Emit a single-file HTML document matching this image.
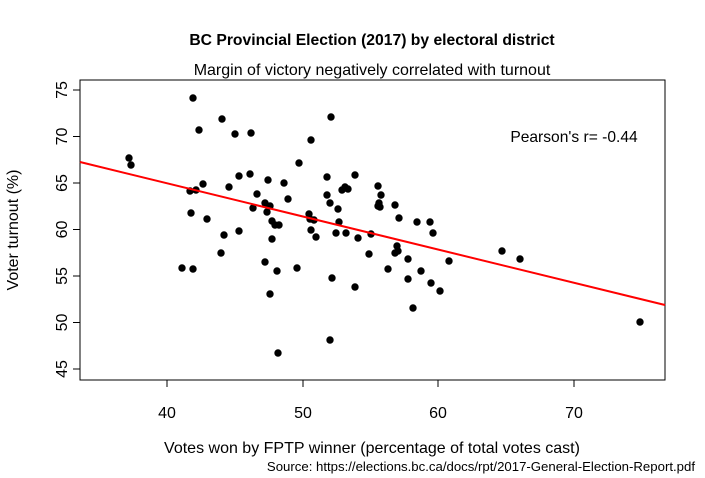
<!DOCTYPE html>
<html><head><meta charset="utf-8"><style>
body{margin:0;background:#fff}
svg{display:block;font-family:"Liberation Sans",sans-serif}
</style></head><body>
<svg width="705" height="478" xmlns="http://www.w3.org/2000/svg">
<text x="372" y="45" text-anchor="middle" font-size="15.7" font-weight="bold">BC Provincial Election (2017) by electoral district</text>
<text x="372" y="75" text-anchor="middle" font-size="16">Margin of victory negatively correlated with turnout</text>
<rect x="80" y="80" width="585" height="300" fill="none" stroke="#000"/>
<g stroke="#000">
<line x1="167" y1="380" x2="167" y2="387"/><line x1="303" y1="380" x2="303" y2="387"/><line x1="438" y1="380" x2="438" y2="387"/><line x1="574" y1="380" x2="574" y2="387"/>
<line x1="80" y1="90" x2="73" y2="90"/><line x1="80" y1="136.5" x2="73" y2="136.5"/><line x1="80" y1="183" x2="73" y2="183"/><line x1="80" y1="229.5" x2="73" y2="229.5"/><line x1="80" y1="276" x2="73" y2="276"/><line x1="80" y1="322.5" x2="73" y2="322.5"/><line x1="80" y1="369" x2="73" y2="369"/>
</g>
<g font-size="16" text-anchor="middle">
<text x="167" y="418">40</text><text x="303" y="418">50</text><text x="438" y="418">60</text><text x="574" y="418">70</text>
<text transform="translate(67,90) rotate(-90)">75</text>
<text transform="translate(67,136.5) rotate(-90)">70</text>
<text transform="translate(67,183) rotate(-90)">65</text>
<text transform="translate(67,229.5) rotate(-90)">60</text>
<text transform="translate(67,276) rotate(-90)">55</text>
<text transform="translate(67,322.5) rotate(-90)">50</text>
<text transform="translate(67,369) rotate(-90)">45</text>
<text transform="translate(18,230) rotate(-90)">Voter turnout (%)</text>
<text x="372" y="453">Votes won by FPTP winner (percentage of total votes cast)</text>
</g>
<text x="695" y="471" text-anchor="end" font-size="13.2">Source: https://elections.bc.ca/docs/rpt/2017-General-Election-Report.pdf</text>
<text x="574" y="142" text-anchor="middle" font-size="15.6">Pearson's r= -0.44</text>
<g fill="#000">
<circle cx="193" cy="98" r="3.7"/><circle cx="222" cy="119" r="3.7"/><circle cx="199" cy="130" r="3.7"/><circle cx="235" cy="134" r="3.7"/><circle cx="251" cy="133" r="3.7"/><circle cx="331" cy="117" r="3.7"/><circle cx="311" cy="140" r="3.7"/><circle cx="299" cy="163" r="3.7"/><circle cx="239" cy="176" r="3.7"/><circle cx="250" cy="174" r="3.7"/><circle cx="268" cy="180" r="3.7"/><circle cx="284" cy="183" r="3.7"/><circle cx="203" cy="184" r="3.7"/><circle cx="190" cy="191" r="3.7"/><circle cx="196" cy="190" r="3.7"/><circle cx="229" cy="187" r="3.7"/><circle cx="257" cy="194" r="3.7"/><circle cx="327" cy="177" r="3.7"/><circle cx="355" cy="175" r="3.7"/><circle cx="342" cy="190" r="3.7"/><circle cx="345" cy="187" r="3.7"/><circle cx="348" cy="189" r="3.7"/><circle cx="327" cy="195" r="3.7"/><circle cx="330" cy="203" r="3.7"/><circle cx="288" cy="199" r="3.7"/><circle cx="265" cy="203" r="3.7"/><circle cx="270" cy="206" r="3.7"/><circle cx="253" cy="208" r="3.7"/><circle cx="267" cy="212" r="3.7"/><circle cx="338" cy="209" r="3.7"/><circle cx="191" cy="213" r="3.7"/><circle cx="207" cy="219" r="3.7"/><circle cx="272" cy="221" r="3.7"/><circle cx="275" cy="225" r="3.7"/><circle cx="279" cy="225" r="3.7"/><circle cx="309" cy="214" r="3.7"/><circle cx="310" cy="219" r="3.7"/><circle cx="314" cy="220" r="3.7"/><circle cx="339" cy="222" r="3.7"/><circle cx="311" cy="230" r="3.7"/><circle cx="316" cy="237" r="3.7"/><circle cx="336" cy="233" r="3.7"/><circle cx="346" cy="233" r="3.7"/><circle cx="358" cy="238" r="3.7"/><circle cx="224" cy="235" r="3.7"/><circle cx="239" cy="231" r="3.7"/><circle cx="272" cy="239" r="3.7"/><circle cx="221" cy="253" r="3.7"/><circle cx="265" cy="262" r="3.7"/><circle cx="182" cy="268" r="3.7"/><circle cx="193" cy="269" r="3.7"/><circle cx="277" cy="271" r="3.7"/><circle cx="297" cy="268" r="3.7"/><circle cx="332" cy="278" r="3.7"/><circle cx="355" cy="287" r="3.7"/><circle cx="270" cy="294" r="3.7"/><circle cx="330" cy="340" r="3.7"/><circle cx="278" cy="353" r="3.7"/>
<circle cx="378" cy="186" r="3.7"/><circle cx="381" cy="195" r="3.7"/><circle cx="379" cy="203" r="3.7"/><circle cx="380" cy="207" r="3.7"/><circle cx="378" cy="206" r="3.7"/><circle cx="395" cy="205" r="3.7"/><circle cx="399" cy="218" r="3.7"/><circle cx="417" cy="222" r="3.7"/><circle cx="430" cy="222" r="3.7"/><circle cx="433" cy="233" r="3.7"/><circle cx="371" cy="234" r="3.7"/><circle cx="369" cy="254" r="3.7"/><circle cx="397" cy="246" r="3.7"/><circle cx="395" cy="253" r="3.7"/><circle cx="398" cy="251" r="3.7"/><circle cx="408" cy="259" r="3.7"/><circle cx="449" cy="261" r="3.7"/><circle cx="388" cy="269" r="3.7"/><circle cx="408" cy="279" r="3.7"/><circle cx="421" cy="271" r="3.7"/><circle cx="431" cy="283" r="3.7"/><circle cx="440" cy="291" r="3.7"/><circle cx="413" cy="308" r="3.7"/>
<circle cx="129" cy="158" r="3.7"/><circle cx="131" cy="165" r="3.7"/><circle cx="502" cy="251" r="3.7"/><circle cx="520" cy="259" r="3.7"/><circle cx="640" cy="322" r="3.7"/>
</g>
<line x1="80" y1="162" x2="665" y2="305" stroke="#f00" stroke-width="2"/>
</svg>
</body></html>
